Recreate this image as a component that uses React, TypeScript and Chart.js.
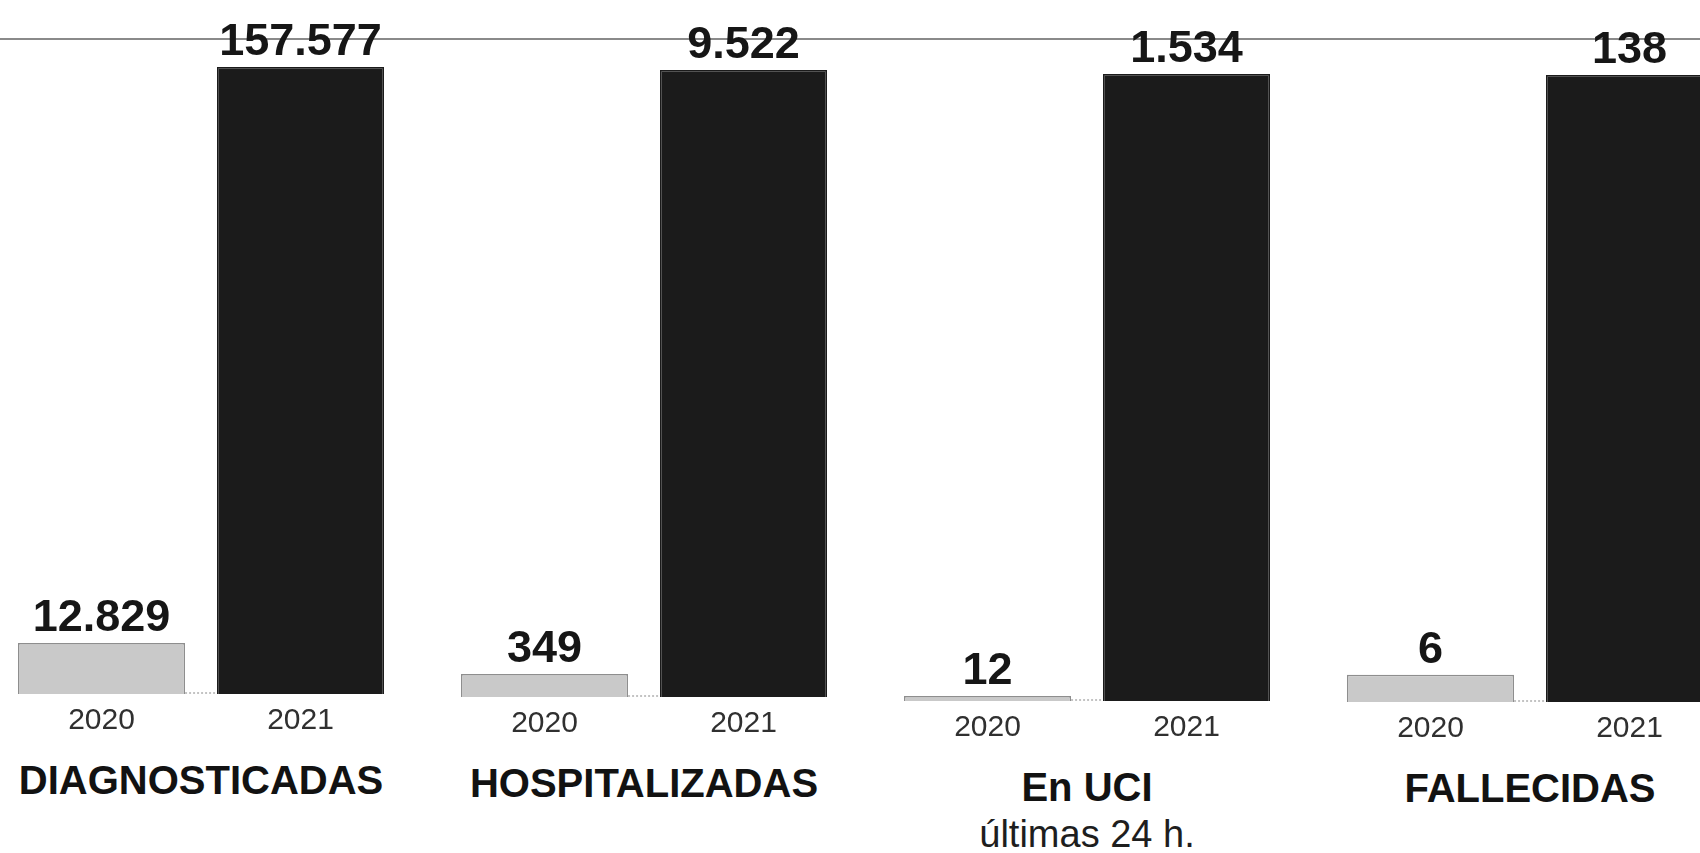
import React, { useEffect, useRef } from 'react';
import { Chart, registerables } from 'chart.js';

Chart.register(...registerables);

// ---- data ----
const categories = ['DIAGNOSTICADAS', 'HOSPITALIZADAS', 'En UCI', 'FALLECIDAS'];
const subLabels = ['', '', 'últimas 24 h.', ''];
const years = ['2020', '2021'];
const values2020 = [12829, 349, 12, 6];
const values2021 = [157577, 9522, 1534, 138];

// ---- layout / style ----
const FONT = '"Liberation Sans", Arial, Helvetica, sans-serif';
const PANEL_STEP = 443;
const PANEL_LEFT = 2;
const PANEL_WIDTH = 398;
const CANVAS_HEIGHT = 748;
const PANEL_SHIFT = [0, 3, 7, 8];

function fmt(n: number): string {
  return String(n).replace(/\B(?=(\d{3})+(?!\d))/g, '.');
}

const valueLabelPlugin = {
  id: 'valueLabels',
  afterDatasetsDraw(chart: any) {
    const ctx = chart.ctx;
    const meta = chart.getDatasetMeta(0);
    const data = chart.data.datasets[0].data as number[];
    ctx.save();
    // dotted baseline segment between the two bars
    if (meta.data.length === 2) {
      const a = meta.data[0];
      const b = meta.data[1];
      const y0 = chart.scales.y.getPixelForValue(0);
      ctx.strokeStyle = '#b0b0b0';
      ctx.lineWidth = 1.5;
      ctx.setLineDash([2, 2]);
      ctx.beginPath();
      ctx.moveTo(a.x + a.width / 2, y0 - 1);
      ctx.lineTo(b.x - b.width / 2, y0 - 1);
      ctx.stroke();
      ctx.setLineDash([]);
    }
    ctx.font = `bold 45px ${FONT}`;
    ctx.fillStyle = '#161616';
    ctx.textAlign = 'center';
    ctx.textBaseline = 'alphabetic';
    meta.data.forEach((bar: any, i: number) => {
      ctx.fillText(fmt(data[i]), bar.x, bar.y - 12);
    });
    ctx.restore();
  },
};

function Panel({ index }: { index: number }) {
  const ref = useRef<HTMLCanvasElement | null>(null);

  useEffect(() => {
    if (!ref.current) return;
    const chart = new Chart(ref.current, {
      type: 'bar',
      data: {
        labels: years,
        datasets: [
          {
            data: [values2020[index], values2021[index]],
            backgroundColor: ['#c9c9c9', '#1b1b1b'],
            borderColor: ['#8e8e8e', '#1b1b1b'],
            borderWidth: 1.5,
            barPercentage: 0.84,
            categoryPercentage: 1,
          },
        ],
      },
      options: {
        animation: false,
        responsive: false,
        maintainAspectRatio: false,
        layout: { padding: { top: 67, left: 0, right: 0, bottom: 0 } },
        plugins: {
          legend: { display: false },
          tooltip: { enabled: false },
        },
        scales: {
          x: {
            grid: { display: false, drawTicks: false },
            border: { display: false },
            ticks: {
              color: '#303030',
              font: { family: FONT, size: 30 },
              padding: 9,
            },
          },
          y: {
            display: false,
            min: 0,
            max: values2021[index],
          },
        },
      },
      plugins: [valueLabelPlugin],
    });
    return () => chart.destroy();
  }, [index]);

  const left = PANEL_LEFT + PANEL_STEP * index;
  const shift = PANEL_SHIFT[index];

  return (
    <>
      <canvas
        ref={ref}
        width={PANEL_WIDTH}
        height={CANVAS_HEIGHT}
        style={{ position: 'absolute', left, top: shift, width: PANEL_WIDTH, height: CANVAS_HEIGHT }}
      />
      <div
        style={{
          position: 'absolute',
          left,
          top: 760 + shift,
          width: PANEL_WIDTH,
          textAlign: 'center',
          fontFamily: FONT,
          color: '#121212',
        }}
      >
        <div style={{ fontSize: 40, fontWeight: 'bold', lineHeight: '40px', whiteSpace: 'nowrap' }}>
          {categories[index]}
        </div>
        {subLabels[index] ? (
          <div style={{ fontSize: 38, lineHeight: '38px', marginTop: 8, whiteSpace: 'nowrap', color: '#1e1e1e' }}>
            {subLabels[index]}
          </div>
        ) : null}
      </div>
    </>
  );
}

export default function App() {
  return (
    <div
      style={{
        position: 'absolute',
        left: 0,
        top: 0,
        width: 1700,
        height: 853,
        overflow: 'hidden',
        background: '#ffffff',
      }}
    >
      <div style={{ position: 'absolute', left: 0, top: 38, width: 1700, height: 2, background: '#8a8a8a' }} />
      {categories.map((_, i) => (
        <Panel key={i} index={i} />
      ))}
    </div>
  );
}
